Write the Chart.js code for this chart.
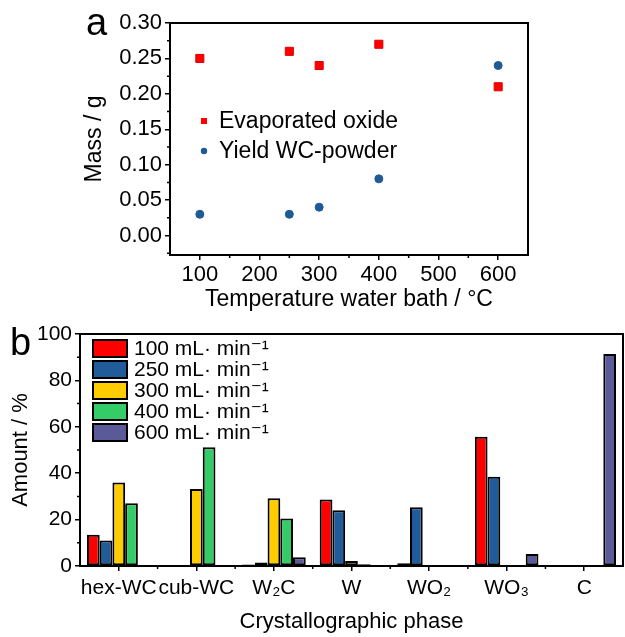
<!DOCTYPE html>
<html>
<head>
<meta charset="utf-8">
<script src="https://cdn.jsdelivr.net/npm/chart.js@4.4.1/dist/chart.umd.min.js"></script>
<style>
  html, body { margin: 0; padding: 0; background: #fff; }
  #wrap { position: relative; width: 625px; height: 637px; }
  #wrap canvas { position: absolute; left: 0; }
  #massChart { top: 0; }
  #phaseChart { top: 318px; }
</style>
</head>
<body>
<div id="wrap">
  <canvas id="massChart" width="625" height="318"></canvas>
  <canvas id="phaseChart" width="625" height="319"></canvas>
</div>
<script>
const FONT = "'Liberation Sans', Arial, 'DejaVu Sans', sans-serif";

// panel a: mass vs water bath temperature
const temps = [100, 250, 300, 400, 600];
const evaporatedOxide = [0.25, 0.26, 0.24, 0.27, 0.21];
const yieldWC = [0.03, 0.03, 0.04, 0.08, 0.24];
const tempTicks = [100, 200, 300, 400, 500, 600];
const massTicks = [0, 0.05, 0.10, 0.15, 0.20, 0.25, 0.30];
const tempMinor = [150, 250, 350, 450, 550];
const massMinor = [-0.025, 0.025, 0.075, 0.125, 0.175, 0.225, 0.275];

// panel b: phase composition per flow rate
const phases = ["hex-WC", "cub-WC", "W\u2082C", "W", "WO\u2082", "WO\u2083", "C"];
const flowLabels = ["100", "250", "300", "400", "600"];
const flow100 = [13.5, 0, 0.6, 28.7, 1.2, 55.7, 0];
const flow250 = [11, 0, 1.5, 24, 25.3, 38.5, 0];
const flow300 = [36, 33.2, 29.2, 2.2, 0, 0, 0];
const flow400 = [27, 51.2, 20.5, 0.8, 0.3, 0, 0];
const flow600 = [0, 0, 3.8, 0, 0, 5.2, 91.4];
const flowColors = ["#ff0000", "#1f5c99", "#ffcc00", "#33cc66", "#5a5a99"];
const amountTicks = [0, 20, 40, 60, 80, 100];
const amountMinor = [10, 30, 50, 70, 90];
const phaseMinor = [0.5, 1.5, 2.5, 3.5, 4.5, 5.5];

const frameAndTicks = {
  id: "frameAndTicks",
  afterDraw(chart, args, opts) {
    const { ctx, chartArea: a, scales } = chart;
    ctx.save();
    ctx.strokeStyle = "#000";
    ctx.lineWidth = 2;
    ctx.strokeRect(a.left, a.top, a.right - a.left, a.bottom - a.top);
    ctx.lineWidth = 1.5;
    ctx.beginPath();
    (opts.minorX || []).forEach((v) => {
      const px = scales.x.getPixelForValue(v);
      ctx.moveTo(px, a.bottom);
      ctx.lineTo(px, a.bottom + 3);
    });
    (opts.minorY || []).forEach((v) => {
      const py = scales.y.getPixelForValue(v);
      if (py > a.bottom || py < a.top) return;
      ctx.moveTo(a.left, py);
      ctx.lineTo(a.left - 3, py);
    });
    ctx.stroke();
    ctx.fillStyle = "#000";
    ctx.font = "38px " + FONT;
    ctx.textBaseline = "alphabetic";
    ctx.fillText(opts.letter, opts.letterX, opts.letterY);
    ctx.restore();
  },
};

const pointLegend = {
  id: "pointLegend",
  afterDraw(chart, args, opts) {
    const ctx = chart.ctx;
    ctx.save();
    ctx.font = "23px " + FONT;
    ctx.textBaseline = "middle";
    chart.data.datasets.forEach((ds, i) => {
      const y = opts.y + i * opts.gap;
      ctx.fillStyle = ds.backgroundColor;
      if (ds.pointStyle === "rect") {
        ctx.fillRect(opts.x - 3, y - 3, 6, 6);
      } else {
        ctx.beginPath();
        ctx.arc(opts.x, y, 3.2, 0, Math.PI * 2);
        ctx.fill();
      }
      ctx.fillStyle = "#000";
      ctx.fillText(ds.label, opts.x + 15, y + 1);
    });
    ctx.restore();
  },
};

const boxLegend = {
  id: "boxLegend",
  afterDraw(chart, args, opts) {
    const ctx = chart.ctx;
    ctx.save();
    ctx.font = "21px " + FONT;
    ctx.textBaseline = "middle";
    chart.data.datasets.forEach((ds, i) => {
      const y = opts.y + i * opts.gap;
      ctx.fillStyle = ds.backgroundColor;
      ctx.fillRect(opts.x, y - 8.5, 34, 17);
      ctx.strokeStyle = "#000";
      ctx.lineWidth = 2;
      ctx.strokeRect(opts.x, y - 8.5, 34, 17);
      ctx.fillStyle = "#000";
      ctx.fillText(ds.label, opts.x + 41, y + 1);
    });
    ctx.restore();
  },
};

function axisStyle(extra) {
  return Object.assign({
    border: { color: "#000", width: 2 },
    grid: { drawOnChartArea: false, color: "#000", lineWidth: 1.5, tickLength: 5 },
  }, extra);
}

new Chart(document.getElementById("massChart"), {
  type: "scatter",
  data: {
    datasets: [
      {
        label: "Evaporated oxide",
        data: temps.map((t, i) => ({ x: t, y: evaporatedOxide[i] })),
        pointStyle: "rect",
        pointRadius: 5.7,
        backgroundColor: "#ff0000",
        borderColor: "#dd0000",
        borderWidth: 1,
      },
      {
        label: "Yield WC-powder",
        data: temps.map((t, i) => ({ x: t, y: yieldWC[i] })),
        pointStyle: "circle",
        pointRadius: 4,
        backgroundColor: "#1f5a96",
        borderColor: "#1f5a96",
        borderWidth: 1,
      },
    ],
  },
  options: {
    responsive: false,
    animation: false,
    devicePixelRatio: 1,
    layout: { padding: { left: 0, right: 97, top: 23, bottom: 0 } },
    plugins: {
      legend: { display: false },
      tooltip: { enabled: false },
      frameAndTicks: { minorX: tempMinor, minorY: massMinor, letter: "a", letterX: 86, letterY: 35 },
      pointLegend: { x: 204, y: 121, gap: 30 },
    },
    scales: {
      x: axisStyle({
        type: "linear",
        min: 50,
        max: 650,
        afterBuildTicks: (s) => { s.ticks = tempTicks.map((v) => ({ value: v })); },
        afterFit: (s) => { s.height = 63; },
        ticks: { color: "#000", font: { family: FONT, size: 22 }, padding: 2, maxRotation: 0, autoSkip: false },
        title: { display: true, text: "Temperature water bath / \u00b0C", color: "#000", font: { family: FONT, size: 23 }, padding: { bottom: 5 } },
      }),
      y: axisStyle({
        type: "linear",
        min: -0.0275,
        max: 0.30,
        afterBuildTicks: (s) => { s.ticks = massTicks.map((v) => ({ value: v })); },
        afterFit: (s) => { s.width = 170; },
        ticks: { color: "#000", font: { family: FONT, size: 22 }, padding: 3, callback: (v) => Number(v).toFixed(2) },
        title: { display: true, text: "Mass / g", color: "#000", font: { family: FONT, size: 23 }, padding: { top: 81 } },
      }),
    },
  },
  plugins: [frameAndTicks, pointLegend],
});

const flowSeries = [flow100, flow250, flow300, flow400, flow600];

new Chart(document.getElementById("phaseChart"), {
  type: "bar",
  data: {
    labels: phases,
    datasets: flowSeries.map((vals, i) => ({
      label: flowLabels[i] + " mL\u00b7 min\u207b\u00b9",
      data: vals,
      backgroundColor: flowColors[i],
      borderColor: "#000",
      borderWidth: 2,
      borderSkipped: false,
      categoryPercentage: 0.82,
      barPercentage: 1.0,
    })),
  },
  options: {
    responsive: false,
    animation: false,
    devicePixelRatio: 1,
    layout: { padding: { left: 0, right: 2, top: 16, bottom: 0 } },
    plugins: {
      legend: { display: false },
      tooltip: { enabled: false },
      frameAndTicks: { minorX: phaseMinor, minorY: amountMinor, letter: "b", letterX: 10, letterY: 37 },
      boxLegend: { x: 93, y: 30.5, gap: 21 },
    },
    scales: {
      x: axisStyle({
        grid: { drawOnChartArea: false, color: "#000", lineWidth: 1.5, tickLength: 5, offset: false },
        afterFit: (s) => { s.height = 71; },
        ticks: { color: "#000", font: { family: FONT, size: 21 }, padding: 5, maxRotation: 0, autoSkip: false },
        title: { display: true, text: "Crystallographic phase", color: "#000", font: { family: FONT, size: 22 }, padding: { bottom: 2 } },
      }),
      y: axisStyle({
        min: 0,
        max: 100,
        afterBuildTicks: (s) => { s.ticks = amountTicks.map((v) => ({ value: v })); },
        afterFit: (s) => { s.width = 80; },
        ticks: { color: "#000", font: { family: FONT, size: 21 }, padding: 3 },
        title: { display: true, text: "Amount / %", color: "#000", font: { family: FONT, size: 22 }, padding: { top: 8 } },
      }),
    },
  },
  plugins: [frameAndTicks, boxLegend],
});
</script>
</body>
</html>
